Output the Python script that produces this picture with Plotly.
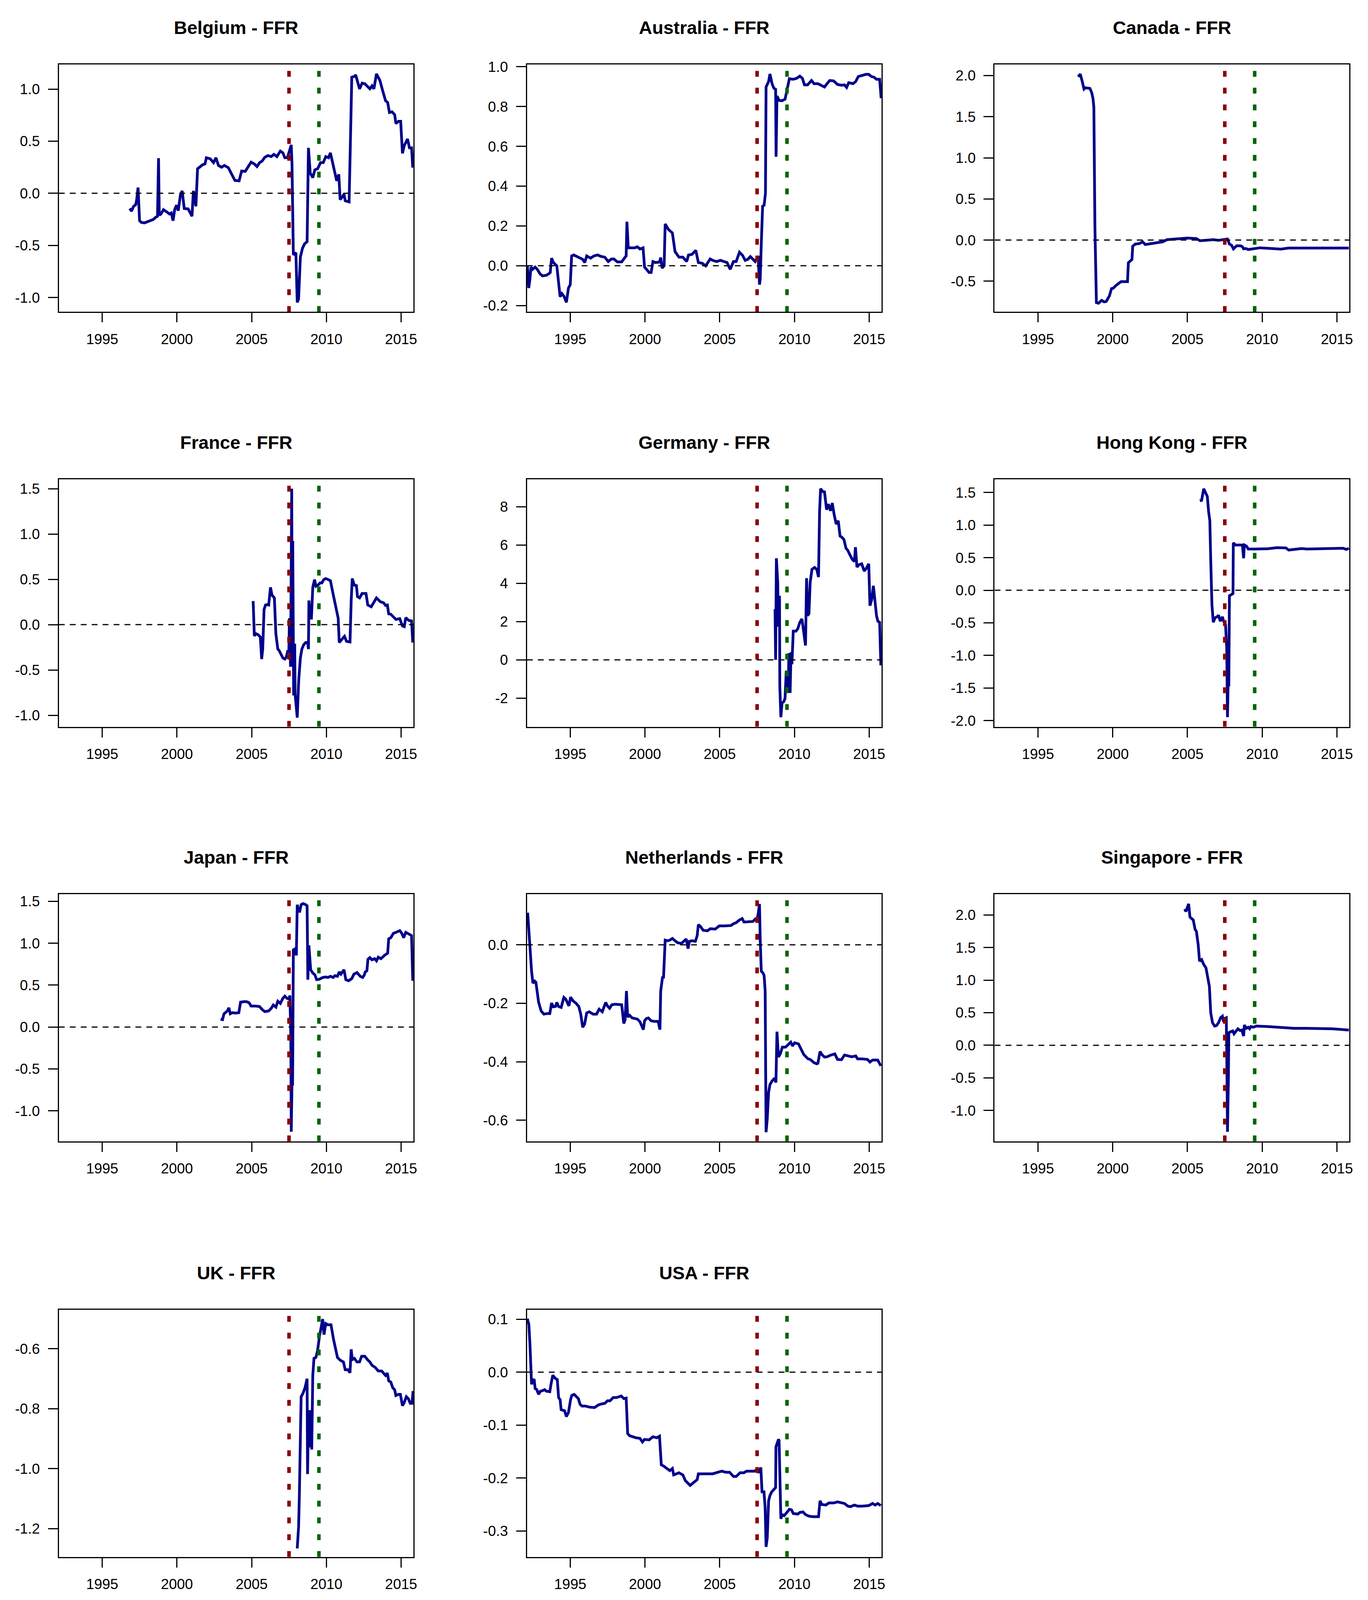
import plotly.graph_objects as go

# ---------------- data (year, value) ----------------
belgium = [(1996.84, -0.146), (1996.96, -0.172), (1997.10, -0.125), (1997.24, -0.110), (1997.31, -0.061),
           (1997.40, 0.055), (1997.50, -0.263), (1997.62, -0.280), (1997.83, -0.284), (1998.15, -0.263),
           (1998.41, -0.252), (1998.58, -0.231), (1998.70, -0.220), (1998.77, 0.337), (1998.82, -0.210),
           (1998.93, -0.199), (1999.10, -0.157), (1999.31, -0.178), (1999.50, -0.199), (1999.62, -0.189),
           (1999.74, -0.263), (1999.85, -0.157), (1999.97, -0.114), (2000.09, -0.167), (2000.23, -0.019),
           (2000.35, 0.023), (2000.49, -0.146), (2000.75, -0.150), (2000.93, -0.199), (2001.01, -0.220),
           (2001.10, 0.023), (2001.19, -0.040), (2001.27, -0.125), (2001.38, 0.235), (2001.53, 0.256),
           (2001.71, 0.273), (2001.88, 0.282), (2001.97, 0.341), (2002.23, 0.331), (2002.45, 0.294),
           (2002.61, 0.341), (2002.78, 0.267), (2002.98, 0.250), (2003.18, 0.267), (2003.44, 0.246),
           (2003.67, 0.182), (2003.88, 0.123), (2004.16, 0.119), (2004.33, 0.214), (2004.57, 0.210),
           (2004.75, 0.256), (2004.96, 0.299), (2005.18, 0.282), (2005.36, 0.256), (2005.53, 0.294),
           (2005.70, 0.309), (2005.88, 0.345), (2006.09, 0.362), (2006.31, 0.352), (2006.49, 0.373),
           (2006.69, 0.352), (2006.92, 0.405), (2007.09, 0.388), (2007.22, 0.341), (2007.39, 0.341),
           (2007.53, 0.405), (2007.65, 0.464), (2007.70, 0.278), (2007.79, -0.591), (2007.96, -0.570),
           (2008.05, -1.047), (2008.14, -1.015), (2008.26, -0.612), (2008.40, -0.528), (2008.54, -0.485),
           (2008.71, -0.464), (2008.80, 0.436), (2008.92, 0.193), (2009.09, 0.150), (2009.23, 0.225),
           (2009.41, 0.235), (2009.61, 0.294), (2009.79, 0.294), (2009.96, 0.352), (2010.14, 0.341),
           (2010.27, 0.388), (2010.48, 0.256), (2010.69, 0.119), (2010.83, 0.182), (2010.92, -0.061),
           (2011.04, -0.040), (2011.18, -0.008), (2011.26, -0.072), (2011.52, -0.083), (2011.61, 0.511),
           (2011.70, 1.114), (2011.87, 1.121), (2011.96, 1.136), (2012.22, 1.002), (2012.39, 1.057),
           (2012.57, 1.051), (2012.71, 1.030), (2012.91, 1.002), (2013.05, 1.030), (2013.18, 1.002),
           (2013.35, 1.146), (2013.58, 1.083), (2013.78, 0.977), (2013.96, 0.888), (2014.10, 0.871),
           (2014.22, 0.775), (2014.39, 0.782), (2014.57, 0.754), (2014.65, 0.669), (2014.83, 0.691),
           (2014.97, 0.691), (2015.09, 0.383), (2015.21, 0.458), (2015.43, 0.521), (2015.56, 0.436),
           (2015.70, 0.436), (2015.78, 0.246)]

australia = [(1992.13, 0.000), (1992.22, -0.112), (1992.30, -0.068), (1992.37, -0.007), (1992.48, -0.018),
             (1992.65, -0.007), (1992.79, -0.018), (1992.97, -0.040), (1993.14, -0.051), (1993.40, -0.048),
             (1993.57, -0.040), (1993.66, -0.034), (1993.75, 0.038), (1993.87, 0.016), (1994.10, -0.001),
             (1994.22, -0.107), (1994.32, -0.156), (1994.44, -0.140), (1994.58, -0.154), (1994.74, -0.184),
             (1994.88, -0.112), (1995.00, -0.095), (1995.09, 0.049), (1995.23, 0.054), (1995.49, 0.043),
             (1995.66, 0.038), (1995.83, 0.032), (1995.97, 0.016), (1996.10, 0.049), (1996.36, 0.038),
             (1996.58, 0.049), (1996.83, 0.054), (1997.05, 0.047), (1997.31, 0.043), (1997.54, 0.021),
             (1997.75, 0.034), (1997.92, 0.034), (1998.15, 0.019), (1998.44, 0.019), (1998.62, 0.038),
             (1998.74, 0.049), (1998.79, 0.221), (1998.88, 0.090), (1999.05, 0.090), (1999.31, 0.090),
             (1999.49, 0.095), (1999.66, 0.084), (1999.87, 0.090), (1999.97, -0.007), (2000.10, -0.018),
             (2000.27, -0.034), (2000.41, -0.034), (2000.53, 0.021), (2000.70, 0.016), (2000.97, 0.018),
             (2001.05, 0.041), (2001.14, -0.012), (2001.28, 0.000), (2001.35, 0.210), (2001.57, 0.182),
             (2001.83, 0.165), (2002.01, 0.071), (2002.27, 0.043), (2002.53, 0.043), (2002.79, 0.021),
             (2002.91, 0.054), (2003.14, 0.057), (2003.40, 0.077), (2003.57, 0.016), (2003.83, 0.012),
             (2004.06, -0.001), (2004.36, 0.034), (2004.53, 0.027), (2004.79, 0.021), (2005.05, 0.027),
             (2005.28, 0.021), (2005.49, 0.016), (2005.70, -0.018), (2005.92, 0.021), (2006.10, 0.021),
             (2006.32, 0.068), (2006.53, 0.052), (2006.70, 0.027), (2006.88, 0.032), (2007.05, 0.046),
             (2007.23, 0.032), (2007.37, 0.021), (2007.45, 0.032), (2007.57, 0.049), (2007.66, -0.095),
             (2007.71, -0.068), (2007.78, 0.110), (2007.87, 0.299), (2007.97, 0.304), (2008.06, 0.365),
             (2008.10, 0.898), (2008.18, 0.909), (2008.27, 0.926), (2008.36, 0.964), (2008.50, 0.915),
             (2008.62, 0.892), (2008.74, 0.887), (2008.77, 0.548), (2008.83, 0.853), (2008.97, 0.831),
             (2009.17, 0.829), (2009.37, 0.837), (2009.49, 0.887), (2009.66, 0.940), (2009.92, 0.937),
             (2010.15, 0.942), (2010.36, 0.953), (2010.53, 0.942), (2010.67, 0.909), (2010.88, 0.909),
             (2011.14, 0.931), (2011.31, 0.915), (2011.57, 0.915), (2011.78, 0.907), (2012.01, 0.898),
             (2012.18, 0.915), (2012.36, 0.931), (2012.62, 0.929), (2012.88, 0.911), (2013.14, 0.907),
             (2013.35, 0.909), (2013.49, 0.896), (2013.63, 0.920), (2013.92, 0.915), (2014.10, 0.926),
             (2014.27, 0.951), (2014.50, 0.956), (2014.79, 0.962), (2014.97, 0.962), (2015.14, 0.951),
             (2015.31, 0.948), (2015.49, 0.937), (2015.70, 0.937), (2015.80, 0.842)]

canada = [(1997.69, 1.986), (1997.83, 2.018), (1997.95, 1.938), (1998.08, 1.836), (1998.18, 1.852),
          (1998.32, 1.852), (1998.48, 1.844), (1998.60, 1.790), (1998.68, 1.723), (1998.74, 1.616),
          (1998.77, 1.106), (1998.81, 0.166), (1998.91, -0.760), (1999.05, -0.768), (1999.26, -0.733),
          (1999.43, -0.751), (1999.57, -0.746), (1999.78, -0.679), (1999.92, -0.590), (2000.04, -0.585),
          (2000.21, -0.553), (2000.39, -0.531), (2000.56, -0.505), (2000.82, -0.505), (2000.99, -0.505),
          (2001.05, -0.276), (2001.17, -0.258), (2001.29, -0.236), (2001.34, -0.075), (2001.52, -0.048),
          (2001.78, -0.043), (2002.00, -0.021), (2002.18, -0.054), (2002.39, -0.048), (2002.56, -0.035),
          (2002.91, -0.030), (2003.34, -0.021), (2003.64, 0.005), (2004.12, 0.011), (2004.47, 0.019),
          (2004.99, 0.024), (2005.60, 0.019), (2005.83, -0.008), (2006.21, -0.003), (2006.73, 0.005),
          (2007.08, -0.003), (2007.42, 0.005), (2007.68, 0.013), (2007.81, -0.048), (2007.95, -0.062),
          (2008.08, -0.107), (2008.29, -0.070), (2008.55, -0.070), (2008.68, -0.081), (2008.76, -0.107),
          (2008.90, -0.102), (2009.07, -0.115), (2009.51, -0.102), (2009.86, -0.094), (2010.55, -0.102),
          (2011.25, -0.110), (2011.77, -0.097), (2012.98, -0.097), (2013.51, -0.102), (2014.72, -0.102),
          (2015.80, -0.097)]

france = [(2005.10, 0.261), (2005.18, -0.124), (2005.30, -0.100), (2005.44, -0.112), (2005.58, -0.136),
          (2005.67, -0.380), (2005.74, -0.270), (2005.83, 0.168), (2005.93, 0.217), (2006.05, 0.222),
          (2006.14, 0.217), (2006.26, 0.412), (2006.36, 0.326), (2006.52, 0.295), (2006.62, -0.100),
          (2006.75, -0.270), (2006.83, -0.283), (2006.97, -0.331), (2007.09, -0.368), (2007.22, -0.380),
          (2007.32, -0.356), (2007.41, -0.295), (2007.49, -0.295), (2007.53, 0.071), (2007.60, -0.465),
          (2007.65, 0.704), (2007.68, 1.500), (2007.72, -0.465), (2007.75, 0.923), (2007.81, -0.782),
          (2007.88, -0.210), (2007.91, -0.770), (2008.05, -1.026), (2008.15, -0.612), (2008.26, -0.368),
          (2008.36, -0.270), (2008.48, -0.222), (2008.62, -0.197), (2008.75, -0.197), (2008.80, -0.270),
          (2008.83, 0.266), (2008.92, 0.071), (2009.00, 0.071), (2009.09, 0.412), (2009.21, 0.497),
          (2009.30, 0.424), (2009.44, 0.436), (2009.58, 0.461), (2009.70, 0.461), (2009.82, 0.497),
          (2009.96, 0.509), (2010.13, 0.497), (2010.27, 0.485), (2010.48, 0.314), (2010.66, 0.168),
          (2010.79, 0.071), (2010.86, -0.197), (2011.00, -0.173), (2011.21, -0.129), (2011.35, -0.185),
          (2011.58, -0.192), (2011.66, 0.266), (2011.73, 0.509), (2011.87, 0.436), (2012.01, 0.431),
          (2012.08, 0.309), (2012.22, 0.295), (2012.39, 0.344), (2012.65, 0.344), (2012.77, 0.217),
          (2013.00, 0.197), (2013.35, 0.295), (2013.61, 0.253), (2013.83, 0.241), (2013.96, 0.212),
          (2014.08, 0.217), (2014.17, 0.119), (2014.31, 0.115), (2014.48, 0.083), (2014.65, 0.058),
          (2014.91, 0.066), (2015.09, -0.015), (2015.21, -0.022), (2015.31, 0.076), (2015.52, 0.046),
          (2015.70, 0.041), (2015.78, -0.197)]

germany = [(2008.70, 2.65), (2008.74, 0.00), (2008.79, 5.31), (2008.88, 4.04), (2008.93, 1.73),
           (2009.00, 3.35), (2009.02, -1.39), (2009.09, -3.00), (2009.17, -2.25), (2009.28, -2.19),
           (2009.37, -2.02), (2009.45, -0.58), (2009.52, -1.04), (2009.57, -1.73), (2009.63, 0.35),
           (2009.71, -1.73), (2009.77, 0.40), (2009.83, -0.23), (2009.92, 1.50), (2010.10, 1.50),
           (2010.22, 1.62), (2010.36, 1.96), (2010.50, 2.14), (2010.62, 1.39), (2010.74, 0.75),
           (2010.81, 4.27), (2010.88, 2.31), (2010.97, 2.42), (2011.05, 4.04), (2011.17, 4.73),
           (2011.35, 4.83), (2011.49, 4.73), (2011.61, 4.33), (2011.68, 7.74), (2011.75, 8.95),
           (2011.89, 8.80), (2012.01, 8.78), (2012.15, 7.85), (2012.27, 8.14), (2012.41, 7.79),
           (2012.53, 8.20), (2012.65, 7.62), (2012.79, 7.10), (2012.93, 7.27), (2013.05, 6.47),
           (2013.17, 6.41), (2013.31, 6.29), (2013.45, 5.83), (2013.57, 5.72), (2013.71, 5.49),
           (2013.87, 5.25), (2014.01, 5.14), (2014.08, 5.89), (2014.18, 4.85), (2014.32, 4.97),
           (2014.50, 5.02), (2014.67, 4.64), (2014.81, 4.79), (2014.97, 5.02), (2015.05, 2.83),
           (2015.16, 3.12), (2015.28, 3.87), (2015.40, 3.00), (2015.49, 2.31), (2015.58, 2.02),
           (2015.70, 1.96), (2015.78, -0.29)]

hong_kong = [(2005.83, 1.372), (2005.95, 1.379), (2006.09, 1.558), (2006.21, 1.507), (2006.33, 1.440),
             (2006.42, 1.203), (2006.50, 1.067), (2006.56, 0.457), (2006.64, -0.220), (2006.73, -0.491),
             (2006.85, -0.423), (2006.99, -0.407), (2007.08, -0.383), (2007.20, -0.474), (2007.34, -0.407),
             (2007.42, -0.474), (2007.55, -0.525), (2007.63, -0.898), (2007.68, -1.948), (2007.74, -1.236),
             (2007.77, -1.474), (2007.81, -0.085), (2007.95, -0.068), (2008.05, -0.051), (2008.07, 0.728),
             (2008.21, 0.694), (2008.47, 0.694), (2008.68, 0.694), (2008.76, 0.491), (2008.81, 0.694),
             (2008.95, 0.678), (2009.07, 0.633), (2009.51, 0.633), (2010.38, 0.637), (2010.99, 0.654),
             (2011.59, 0.650), (2011.77, 0.617), (2012.64, 0.640), (2012.98, 0.633), (2013.85, 0.637),
             (2014.72, 0.644), (2015.42, 0.644), (2015.63, 0.627), (2015.80, 0.644)]

japan = [(2002.92, 0.092), (2003.05, 0.087), (2003.15, 0.158), (2003.27, 0.171), (2003.36, 0.189),
         (2003.48, 0.229), (2003.57, 0.158), (2003.71, 0.171), (2003.91, 0.166), (2004.14, 0.171),
         (2004.26, 0.297), (2004.49, 0.302), (2004.66, 0.302), (2004.83, 0.289), (2004.96, 0.250),
         (2005.27, 0.250), (2005.53, 0.244), (2005.70, 0.210), (2005.88, 0.184), (2006.14, 0.192),
         (2006.31, 0.223), (2006.45, 0.263), (2006.62, 0.237), (2006.75, 0.308), (2006.92, 0.281),
         (2007.09, 0.342), (2007.22, 0.368), (2007.36, 0.342), (2007.49, 0.334), (2007.56, 0.376),
         (2007.62, -0.118), (2007.65, -1.249), (2007.70, -0.644), (2007.74, -0.697), (2007.79, 0.920),
         (2007.91, 0.933), (2007.99, 0.854), (2008.05, 1.459), (2008.14, 1.380), (2008.22, 1.380),
         (2008.31, 1.459), (2008.43, 1.472), (2008.57, 1.464), (2008.71, 1.446), (2008.76, 0.565),
         (2008.83, 0.973), (2008.95, 0.683), (2009.09, 0.644), (2009.23, 0.623), (2009.35, 0.565),
         (2009.53, 0.570), (2009.75, 0.591), (2009.96, 0.597), (2010.10, 0.591), (2010.27, 0.605),
         (2010.45, 0.591), (2010.57, 0.613), (2010.74, 0.605), (2010.86, 0.657), (2010.97, 0.631),
         (2011.18, 0.683), (2011.30, 0.565), (2011.49, 0.552), (2011.70, 0.578), (2011.84, 0.631),
         (2012.05, 0.649), (2012.27, 0.605), (2012.43, 0.591), (2012.53, 0.618), (2012.60, 0.657),
         (2012.71, 0.670), (2012.78, 0.807), (2012.91, 0.828), (2013.05, 0.802), (2013.23, 0.815),
         (2013.35, 0.789), (2013.47, 0.833), (2013.65, 0.815), (2013.88, 0.854), (2014.10, 0.881),
         (2014.17, 1.052), (2014.31, 1.065), (2014.48, 1.117), (2014.65, 1.130), (2014.91, 1.149),
         (2015.03, 1.122), (2015.17, 1.065), (2015.31, 1.130), (2015.43, 1.117), (2015.61, 1.104),
         (2015.70, 1.091), (2015.78, 0.552)]

netherlands = [(1992.15, 0.110), (1992.22, 0.046), (1992.32, -0.048), (1992.41, -0.090), (1992.50, -0.131),
               (1992.62, -0.124), (1992.70, -0.128), (1992.88, -0.196), (1993.05, -0.226), (1993.23, -0.237),
               (1993.45, -0.235), (1993.63, -0.235), (1993.75, -0.199), (1993.87, -0.212), (1994.01, -0.211),
               (1994.10, -0.197), (1994.22, -0.211), (1994.39, -0.214), (1994.57, -0.180), (1994.70, -0.186),
               (1994.91, -0.209), (1995.02, -0.179), (1995.19, -0.192), (1995.37, -0.199), (1995.57, -0.211),
               (1995.70, -0.237), (1995.83, -0.282), (1995.96, -0.271), (1996.10, -0.233), (1996.27, -0.229),
               (1996.53, -0.237), (1996.76, -0.237), (1996.93, -0.220), (1997.14, -0.229), (1997.37, -0.197),
               (1997.49, -0.209), (1997.63, -0.217), (1997.78, -0.205), (1998.01, -0.203), (1998.27, -0.203),
               (1998.44, -0.205), (1998.58, -0.269), (1998.67, -0.256), (1998.76, -0.158), (1998.84, -0.247),
               (1998.97, -0.241), (1999.14, -0.250), (1999.31, -0.252), (1999.49, -0.254), (1999.66, -0.263),
               (1999.78, -0.278), (1999.89, -0.290), (1999.97, -0.260), (2000.10, -0.252), (2000.23, -0.250),
               (2000.41, -0.260), (2000.62, -0.262), (2000.88, -0.262), (2001.00, -0.290), (2001.05, -0.158),
               (2001.17, -0.112), (2001.24, -0.111), (2001.35, 0.016), (2001.49, 0.014), (2001.66, 0.016),
               (2001.83, 0.022), (2002.01, 0.014), (2002.18, 0.007), (2002.44, 0.005), (2002.62, 0.012),
               (2002.76, 0.020), (2002.88, -0.013), (2002.97, 0.012), (2003.14, 0.014), (2003.37, 0.012),
               (2003.49, 0.031), (2003.57, 0.069), (2003.71, 0.063), (2003.89, 0.050), (2004.18, 0.048),
               (2004.36, 0.055), (2004.70, 0.054), (2004.97, 0.065), (2005.31, 0.065), (2005.75, 0.066),
               (2005.92, 0.072), (2006.10, 0.076), (2006.32, 0.085), (2006.50, 0.090), (2006.62, 0.078),
               (2006.88, 0.078), (2007.23, 0.080), (2007.37, 0.088), (2007.49, 0.085), (2007.57, 0.105),
               (2007.66, 0.140), (2007.71, 0.016), (2007.78, -0.090), (2007.89, -0.096), (2007.97, -0.105),
               (2008.04, -0.158), (2008.10, -0.641), (2008.18, -0.595), (2008.27, -0.505), (2008.36, -0.478),
               (2008.50, -0.466), (2008.67, -0.456), (2008.76, -0.471), (2008.83, -0.297), (2008.93, -0.384),
               (2009.05, -0.373), (2009.19, -0.350), (2009.40, -0.350), (2009.57, -0.343), (2009.75, -0.333),
               (2009.87, -0.346), (2010.01, -0.335), (2010.27, -0.339), (2010.44, -0.358), (2010.62, -0.375),
               (2010.79, -0.384), (2010.91, -0.390), (2011.05, -0.392), (2011.31, -0.403), (2011.49, -0.407),
               (2011.57, -0.405), (2011.71, -0.365), (2011.83, -0.375), (2012.01, -0.384), (2012.18, -0.383),
               (2012.44, -0.377), (2012.70, -0.373), (2012.88, -0.392), (2013.14, -0.393), (2013.35, -0.377),
               (2013.57, -0.380), (2013.83, -0.383), (2014.10, -0.380), (2014.22, -0.390), (2014.53, -0.390),
               (2014.88, -0.392), (2015.05, -0.401), (2015.23, -0.394), (2015.57, -0.394), (2015.78, -0.414)]

singapore = [(2004.82, 2.091), (2004.90, 2.051), (2004.99, 2.111), (2005.08, 2.169), (2005.17, 1.966),
             (2005.29, 1.943), (2005.39, 1.922), (2005.51, 1.780), (2005.60, 1.747), (2005.72, 1.544),
             (2005.81, 1.291), (2005.95, 1.314), (2006.09, 1.240), (2006.24, 1.189), (2006.35, 1.037),
             (2006.47, 0.902), (2006.56, 0.497), (2006.68, 0.345), (2006.82, 0.294), (2006.94, 0.301),
             (2007.08, 0.345), (2007.22, 0.422), (2007.34, 0.446), (2007.42, 0.361), (2007.51, 0.412),
             (2007.60, 0.422), (2007.63, -0.078), (2007.68, -1.328), (2007.74, -0.551), (2007.77, 0.193),
             (2007.91, 0.209), (2008.03, 0.220), (2008.12, 0.176), (2008.26, 0.226), (2008.38, 0.253),
             (2008.52, 0.226), (2008.64, 0.233), (2008.76, 0.142), (2008.81, 0.311), (2008.94, 0.260),
             (2009.07, 0.277), (2009.16, 0.253), (2009.25, 0.287), (2009.42, 0.277), (2009.60, 0.294),
             (2010.38, 0.287), (2011.25, 0.270), (2012.12, 0.260), (2012.98, 0.260), (2013.85, 0.260),
             (2014.72, 0.253), (2015.24, 0.243), (2015.80, 0.233)]

uk = [(2008.05, -1.266), (2008.14, -1.195), (2008.19, -1.094), (2008.22, -1.004), (2008.28, -0.842),
      (2008.31, -0.760), (2008.43, -0.749), (2008.57, -0.730), (2008.71, -0.700), (2008.74, -1.018),
      (2008.81, -0.805), (2008.88, -0.929), (2008.95, -0.805), (2009.02, -0.936), (2009.09, -0.689),
      (2009.17, -0.632), (2009.30, -0.629), (2009.41, -0.606), (2009.53, -0.561), (2009.61, -0.535),
      (2009.70, -0.509), (2009.75, -0.501), (2009.84, -0.553), (2009.96, -0.516), (2010.10, -0.520),
      (2010.31, -0.520), (2010.48, -0.569), (2010.62, -0.599), (2010.74, -0.629), (2010.92, -0.638),
      (2011.14, -0.644), (2011.26, -0.670), (2011.44, -0.670), (2011.58, -0.680), (2011.66, -0.602),
      (2011.73, -0.636), (2011.87, -0.632), (2012.05, -0.644), (2012.22, -0.644), (2012.36, -0.625),
      (2012.57, -0.625), (2012.78, -0.638), (2012.91, -0.644), (2013.05, -0.655), (2013.26, -0.662),
      (2013.47, -0.674), (2013.70, -0.674), (2013.96, -0.689), (2014.08, -0.681), (2014.17, -0.707),
      (2014.31, -0.711), (2014.44, -0.730), (2014.57, -0.737), (2014.65, -0.756), (2014.83, -0.752),
      (2014.95, -0.752), (2015.09, -0.790), (2015.21, -0.779), (2015.35, -0.760), (2015.49, -0.767),
      (2015.61, -0.782), (2015.73, -0.782), (2015.80, -0.741)]

usa = [(1992.13, 0.101), (1992.23, 0.090), (1992.30, 0.054), (1992.36, 0.007), (1992.41, -0.023),
       (1992.50, -0.016), (1992.58, -0.013), (1992.65, -0.031), (1992.76, -0.033), (1992.88, -0.042),
       (1993.00, -0.036), (1993.14, -0.035), (1993.28, -0.033), (1993.40, -0.036), (1993.63, -0.037),
       (1993.71, -0.023), (1993.83, -0.006), (1994.01, -0.012), (1994.13, -0.014), (1994.22, -0.048),
       (1994.32, -0.052), (1994.39, -0.071), (1994.53, -0.073), (1994.62, -0.073), (1994.74, -0.084),
       (1994.88, -0.076), (1995.02, -0.052), (1995.10, -0.044), (1995.26, -0.042), (1995.40, -0.046),
       (1995.54, -0.050), (1995.66, -0.061), (1995.78, -0.064), (1996.01, -0.064), (1996.27, -0.066),
       (1996.62, -0.067), (1996.88, -0.062), (1997.10, -0.060), (1997.31, -0.059), (1997.49, -0.054),
       (1997.66, -0.054), (1997.87, -0.048), (1998.10, -0.048), (1998.41, -0.045), (1998.58, -0.050),
       (1998.74, -0.049), (1998.79, -0.073), (1998.84, -0.116), (1998.97, -0.120), (1999.14, -0.122),
       (1999.40, -0.124), (1999.66, -0.125), (1999.83, -0.132), (1999.97, -0.127), (2000.27, -0.128),
       (2000.53, -0.122), (2000.79, -0.124), (2000.97, -0.121), (2001.02, -0.141), (2001.09, -0.175),
       (2001.23, -0.177), (2001.45, -0.182), (2001.66, -0.186), (2001.83, -0.182), (2001.92, -0.194),
       (2002.10, -0.192), (2002.27, -0.190), (2002.53, -0.194), (2002.70, -0.205), (2002.88, -0.210),
       (2003.02, -0.214), (2003.23, -0.209), (2003.49, -0.203), (2003.57, -0.192), (2003.75, -0.192),
       (2004.10, -0.193), (2004.53, -0.192), (2004.88, -0.189), (2005.14, -0.187), (2005.40, -0.189),
       (2005.66, -0.189), (2005.92, -0.197), (2006.10, -0.197), (2006.36, -0.190), (2006.62, -0.190),
       (2006.79, -0.187), (2007.05, -0.187), (2007.31, -0.187), (2007.49, -0.184), (2007.61, -0.190),
       (2007.75, -0.180), (2007.83, -0.226), (2007.96, -0.226), (2008.04, -0.256), (2008.10, -0.330),
       (2008.18, -0.313), (2008.27, -0.243), (2008.36, -0.233), (2008.48, -0.226), (2008.62, -0.222),
       (2008.74, -0.218), (2008.76, -0.141), (2008.83, -0.135), (2008.93, -0.127), (2008.97, -0.129),
       (2009.02, -0.222), (2009.09, -0.277), (2009.17, -0.269), (2009.31, -0.271), (2009.49, -0.265),
       (2009.66, -0.259), (2009.80, -0.260), (2009.92, -0.267), (2010.22, -0.268), (2010.36, -0.265),
       (2010.57, -0.264), (2010.74, -0.269), (2010.97, -0.272), (2011.23, -0.273), (2011.61, -0.273),
       (2011.71, -0.243), (2011.83, -0.250), (2012.10, -0.251), (2012.30, -0.247), (2012.62, -0.247),
       (2012.88, -0.245), (2013.14, -0.247), (2013.35, -0.248), (2013.57, -0.253), (2013.75, -0.254),
       (2014.01, -0.251), (2014.22, -0.253), (2014.53, -0.253), (2014.97, -0.252), (2015.23, -0.248),
       (2015.40, -0.251), (2015.57, -0.248), (2015.78, -0.252)]

countries = ["Belgium", "Australia", "Canada", "France", "Germany", "Hong Kong",
             "Japan", "Netherlands", "Singapore", "UK", "USA"]
series = [belgium, australia, canada, france, germany, hong_kong,
          japan, netherlands, singapore, uk, usa]

y_ranges = [[-1.138, 1.235], [-0.232, 1.011], [-0.873, 2.134], [-1.127, 1.602], [-3.50, 9.43],
            [-2.095, 1.70], [-1.363, 1.587], [-0.672, 0.174], [-1.473, 2.321], [-1.2945, -0.4695],
            [-0.349, 0.118]]
y_ticks = [[-1.0, -0.5, 0.0, 0.5, 1.0],
           [-0.2, 0.0, 0.2, 0.4, 0.6, 0.8, 1.0],
           [-0.5, 0.0, 0.5, 1.0, 1.5, 2.0],
           [-1.0, -0.5, 0.0, 0.5, 1.0, 1.5],
           [-2, 0, 2, 4, 6, 8],
           [-2.0, -1.5, -1.0, -0.5, 0.0, 0.5, 1.0, 1.5],
           [-1.0, -0.5, 0.0, 0.5, 1.0, 1.5],
           [-0.6, -0.4, -0.2, 0.0],
           [-1.0, -0.5, 0.0, 0.5, 1.0, 1.5, 2.0],
           [-1.2, -1.0, -0.8, -0.6],
           [-0.3, -0.2, -0.1, 0.0, 0.1]]
integer_ticks = [False, False, False, False, True, False, False, False, False, False, False]

x_range = [1992.1, 2015.83]
x_ticks = [1995, 2000, 2005, 2010, 2015]
crisis_start = 2007.5
crisis_end = 2009.5

# ---------------- layout geometry (pixels) ----------------
W, H = 3501, 4166
# the visible page is a little shorter than the window, so vertical
# positions are compressed slightly to keep the bottom tick labels visible
VS = 0.988
col_left = [151, 1352, 2552]
row_top = [round(t * VS) for t in (154, 1234, 2313, 3395)]
box_w, box_h = 910, round(644 * VS)
title_gap = round(96 * VS)

FONT = "Liberation Sans, Arial, Helvetica, sans-serif"
BLUE = "#00008B"
RED = "#8B0000"
GREEN = "#006400"

fig = go.Figure()
layout = dict(
    width=W, height=H, margin=dict(l=0, r=0, t=0, b=0, pad=0),
    paper_bgcolor="white", plot_bgcolor="white", showlegend=False,
    font=dict(family=FONT, color="black"), annotations=[],
)

for i, (name, data) in enumerate(zip(countries, series)):
    r, c = divmod(i, 3)
    k = i + 1
    xa = "x" if k == 1 else f"x{k}"
    ya = "y" if k == 1 else f"y{k}"
    left = col_left[c]
    top = row_top[r]
    x0, x1 = left / W, (left + box_w) / W
    y1 = 1 - top / H
    y0 = 1 - (top + box_h) / H
    yr = y_ranges[i]

    xs = [p[0] for p in data]
    ys = [p[1] for p in data]

    fig.add_trace(go.Scatter(x=xs, y=ys, mode="lines", xaxis=xa, yaxis=ya,
                             line=dict(color=BLUE, width=7), hoverinfo="skip"))
    fig.add_trace(go.Scatter(x=x_range, y=[0, 0], mode="lines", xaxis=xa, yaxis=ya,
                             line=dict(color="black", width=3, dash="15px,13px"), hoverinfo="skip"))
    fig.add_trace(go.Scatter(x=[crisis_start, crisis_start], y=yr, mode="lines", xaxis=xa, yaxis=ya,
                             line=dict(color=RED, width=9, dash="15px,28px"), hoverinfo="skip"))
    fig.add_trace(go.Scatter(x=[crisis_end, crisis_end], y=yr, mode="lines", xaxis=xa, yaxis=ya,
                             line=dict(color=GREEN, width=9, dash="15px,28px"), hoverinfo="skip"))

    if integer_ticks[i]:
        ytext = [f"{int(v)}" for v in y_ticks[i]]
    else:
        ytext = [f"{v:.1f}" for v in y_ticks[i]]
    ytext = [t if t != "-0.0" else "0.0" for t in ytext]

    axis_common = dict(showgrid=False, zeroline=False, showline=True, linecolor="black",
                       linewidth=3, mirror=True, ticks="outside", tickcolor="black",
                       tickwidth=3, fixedrange=True, ticklabeloverflow="allow")
    layout["xaxis" if k == 1 else f"xaxis{k}"] = dict(
        domain=[x0, x1], range=x_range, anchor=ya, tickmode="array",
        tickvals=x_ticks, ticktext=[str(v) for v in x_ticks], ticklen=24,
        ticklabelstandoff=11, tickfont=dict(size=37, family=FONT, color="black"), **axis_common)
    layout["yaxis" if k == 1 else f"yaxis{k}"] = dict(
        domain=[y0, y1], range=yr, anchor=xa, tickmode="array",
        tickvals=y_ticks[i], ticktext=ytext, ticklen=25,
        ticklabelstandoff=13, tickfont=dict(size=37, family=FONT, color="black"), **axis_common)

    layout["annotations"].append(dict(
        text=f"<b>{name} - FFR</b>", xref="paper", yref="paper",
        x=(left + box_w / 2) / W, y=1 - (top - title_gap) / H, xanchor="center", yanchor="middle",
        showarrow=False, font=dict(size=47, family=FONT, color="black")))

fig.update_layout(**layout)

fig.write_html("out.html", config={"displayModeBar": False, "responsive": False},
               post_script="document.documentElement.style.margin='0';document.body.style.margin='0';"
                           "document.body.style.padding='0';document.documentElement.style.overflow='hidden';"
                           "document.body.style.overflow='hidden';window.scrollTo(0,0);")
